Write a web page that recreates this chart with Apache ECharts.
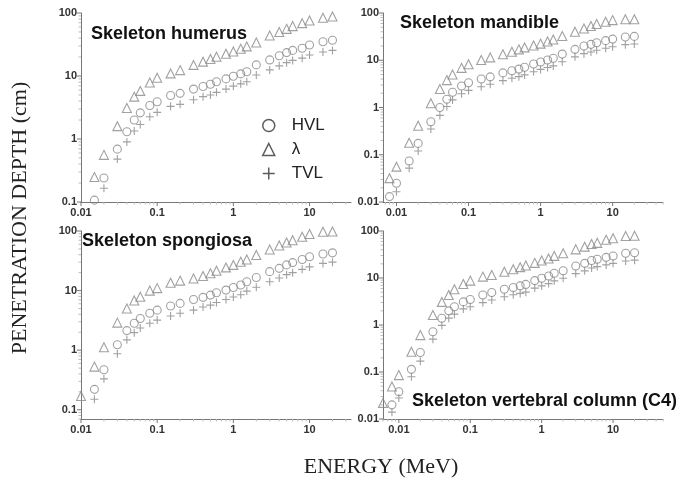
<!DOCTYPE html>
<html><head><meta charset="utf-8">
<script src="https://cdn.jsdelivr.net/npm/echarts/dist/echarts.min.js"></script>
<style>html,body{margin:0;padding:0;background:#fff}#c{width:699px;height:489px}</style>
</head><body><div id="c"></div>
<script>
// ---------- data ----------
const energyLeft  = [0.01, 0.015, 0.02, 0.03, 0.04, 0.05, 0.06, 0.08, 0.1, 0.15, 0.2, 0.3, 0.4, 0.5, 0.6, 0.8, 1, 1.25, 1.5, 2, 3, 4, 5, 6, 8, 10, 15, 20];
const energyRight = [0.006, 0.008, 0.01, 0.015, 0.02, 0.03, 0.04, 0.05, 0.06, 0.08, 0.1, 0.15, 0.2, 0.3, 0.4, 0.5, 0.6, 0.8, 1, 1.25, 1.5, 2, 3, 4, 5, 6, 8, 10, 15, 20];

const humerusHVL    = [null, 0.107, 0.24, 0.69, 1.3, 2.0, 2.6, 3.4, 3.9, 4.9, 5.3, 6.2, 6.8, 7.4, 8.1, 9.0, 9.9, 10.8, 11.7, 15.0, 18.0, 21.0, 23.5, 25.5, 27.6, 31, 35, 37];
const humerusLambda = [null, 0.25, 0.56, 1.6, 3.1, 4.7, 5.8, 7.9, 9.4, 11, 12.4, 15, 16.9, 18.6, 20.2, 22.5, 24.5, 27, 29.5, 34, 44, 50, 56, 62, 69, 76, 84, 88];
const humerusTVL    = [null, null, 0.165, 0.48, 0.9, 1.34, 1.7, 2.26, 2.65, 3.3, 3.55, 4.2, 4.7, 5.0, 5.5, 6.2, 6.9, 7.5, 8.1, 10.4, 12.5, 14.5, 16.3, 17.7, 19.2, 21.5, 24, 25.5];

const mandibleHVL    = [null, 0.013, 0.025, 0.074, 0.174, 0.50, 1.0, 1.5, 2.1, 2.85, 3.35, 4.0, 4.45, 5.4, 6.0, 6.5, 7.1, 8.3, 9.2, 10.1, 11, 13.5, 17, 20, 21.7, 23.5, 26, 28, 31, 32];
const mandibleLambda = [null, 0.032, 0.056, 0.18, 0.41, 1.23, 2.46, 3.8, 5.0, 6.9, 8.2, 10.1, 11.5, 13.4, 15.1, 17, 18.7, 20.5, 22.5, 25, 27.5, 32.6, 40, 47, 53, 58.5, 65.5, 70.7, 73.6, 74];
const mandibleTVL    = [null, null, 0.0165, 0.052, 0.12, 0.35, 0.68, 1.05, 1.45, 1.95, 2.3, 2.75, 3.1, 3.7, 4.15, 4.5, 4.9, 5.7, 6.4, 7.0, 7.6, 9.3, 11.8, 13.8, 15, 16.3, 18, 19.3, 21.4, 22];

const spongiosaHVL    = [null, 0.22, 0.47, 1.23, 2.13, 2.83, 3.4, 4.17, 4.7, 5.5, 6.1, 7.1, 7.7, 8.4, 9.2, 10.2, 11.3, 12.4, 14.1, 16.6, 20.8, 23.6, 27, 29.5, 33.3, 37, 41, 43];
const spongiosaLambda = [0.17, 0.53, 1.12, 2.9, 5.0, 6.8, 7.9, 10, 11, 13.5, 14.7, 16, 17.6, 19.5, 21.5, 24.5, 27, 30.5, 33.3, 39.5, 49, 57, 64, 70, 80, 89, 97, 98];
const spongiosaTVL    = [null, 0.15, 0.33, 0.87, 1.49, 1.97, 2.35, 2.83, 3.2, 3.75, 4.17, 4.7, 5.3, 5.7, 6.3, 7.1, 7.8, 8.5, 9.8, 11.4, 14.1, 16.3, 18.5, 20, 22.7, 25, 28.6, 30];

const vertebralHVL    = [null, 0.02, 0.038, 0.114, 0.26, 0.72, 1.39, 2.0, 2.45, 3.1, 3.5, 4.35, 4.9, 5.75, 6.3, 6.8, 7.3, 8.8, 9.9, 11, 12.6, 14.3, 18, 20.5, 23.5, 25, 27.5, 29.4, 33.5, 34.5];
const vertebralLambda = [0.022, 0.049, 0.086, 0.27, 0.61, 1.63, 3.1, 4.35, 5.75, 7.45, 8.8, 10.7, 11.6, 13.6, 15.3, 17, 18.5, 21, 23.5, 26, 29.5, 33.5, 40.7, 46.5, 53, 56, 65, 70, 78, 79];
const vertebralTVL    = [null, 0.014, 0.028, 0.079, 0.17, 0.5, 0.98, 1.4, 1.7, 2.2, 2.45, 3.0, 3.4, 4.0, 4.4, 4.7, 5.0, 6.1, 6.8, 7.6, 8.7, 9.9, 12.4, 14.2, 16.3, 17.5, 19, 20.5, 23, 24];

const panelTitles = ['Skeleton humerus', 'Skeleton mandible', 'Skeleton spongiosa', 'Skeleton vertebral column (C4)'];
const seriesNames = ['HVL', 'λ', 'TVL'];
const tickMultipliers = [1, 2, 3, 4, 5, 6, 7, 8, 9];

// ---------- build ----------
const panels = [
  {E: energyLeft,  s: [humerusHVL, humerusLambda, humerusTVL],       grid: {left: 81,  top: 13,  width: 270, height: 189}, x: [0.01, 35],   y: [0.1, 100]},
  {E: energyRight, s: [mandibleHVL, mandibleLambda, mandibleTVL],    grid: {left: 383, top: 13,  width: 280, height: 189}, x: [0.0065, 50], y: [0.01, 100]},
  {E: energyLeft,  s: [spongiosaHVL, spongiosaLambda, spongiosaTVL], grid: {left: 81,  top: 231, width: 270, height: 188}, x: [0.01, 35],   y: [0.07, 100]},
  {E: energyRight, s: [vertebralHVL, vertebralLambda, vertebralTVL], grid: {left: 383, top: 231, width: 280, height: 188}, x: [0.006, 50],  y: [0.01, 100]}
];

const plusPath = 'path://M5,0L5,10M0,5L10,5';
const symbols = ['circle', 'triangle', plusPath];
const sizes = [8, 9, 8];
const labelFont = {color: '#333', fontSize: 11, fontWeight: 'bold', fontFamily: '"Liberation Sans", Arial, sans-serif'};

function fmt(v) {
  const l = Math.log10(v);
  if (Math.abs(l - Math.round(l)) > 1e-6) return '';
  return String(+Math.pow(10, Math.round(l)).toPrecision(6));
}
function pairs(E, V) {
  const out = [];
  E.forEach((e, i) => { if (V[i] != null) out.push([e, V[i]]); });
  return out;
}
function tickData(xr, yr) {
  const d = [];
  const add = (r, cb) => {
    for (let k = Math.floor(Math.log10(r[0])); k <= Math.ceil(Math.log10(r[1])); k++) {
      tickMultipliers.forEach(m => {
        const v = +(m * Math.pow(10, k)).toPrecision(6);
        if (v >= r[0] * (1 - 1e-9) && v <= r[1] * (1 + 1e-9)) cb(v, m === 1 ? 1 : 0);
      });
    }
  };
  add(xr, (v, maj) => d.push([v, yr[0], 0, maj]));
  add(yr, (v, maj) => d.push([xr[0], v, 1, maj]));
  return d;
}
function renderTick(params, api) {
  const p = api.coord([api.value(0), api.value(1)]);
  const maj = api.value(3) === 1;
  const len = maj ? 4 : 2.5;
  const isX = api.value(2) === 0;
  return {
    type: 'line',
    shape: isX ? {x1: p[0], y1: p[1], x2: p[0], y2: p[1] + len} : {x1: p[0] - len, y1: p[1], x2: p[0], y2: p[1]},
    style: {stroke: maj ? '#777' : '#bbb', lineWidth: 1},
    silent: true
  };
}

const grid = [], xAxis = [], yAxis = [], series = [];
panels.forEach((p, gi) => {
  grid.push(p.grid);
  xAxis.push({type: 'log', logBase: 10, gridIndex: gi, min: p.x[0], max: p.x[1],
    axisLine: {lineStyle: {color: '#777', width: 1}}, axisTick: {show: false}, splitLine: {show: false},
    axisLabel: Object.assign({margin: 5, formatter: fmt}, labelFont)});
  yAxis.push({type: 'log', logBase: 10, gridIndex: gi, min: p.y[0], max: p.y[1],
    axisLine: {show: true, lineStyle: {color: '#777', width: 1}}, axisTick: {show: false}, splitLine: {show: false},
    axisLabel: Object.assign({margin: 4, formatter: fmt}, labelFont)});
  p.s.forEach((vals, si) => {
    series.push({
      type: 'scatter', name: seriesNames[si], xAxisIndex: gi, yAxisIndex: gi,
      data: pairs(p.E, vals), symbol: symbols[si], symbolSize: sizes[si],
      itemStyle: {color: 'rgba(0,0,0,0)', borderColor: '#8a8a8a', borderWidth: 1.1},
      silent: true, clip: false, animation: false
    });
  });
  series.push({type: 'custom', xAxisIndex: gi, yAxisIndex: gi, data: tickData(p.x, p.y),
    renderItem: renderTick, silent: true, clip: false, animation: false, z: 1});
});

const titleFont = 'bold 18px "Liberation Sans", Arial, sans-serif';
const axisTitleFont = '22px "Liberation Serif", "Times New Roman", serif';
const titlePos = [[91, 25], [400, 14], [82, 232], [412, 392]];

const option = {
  animation: false,
  backgroundColor: '#fff',
  grid, xAxis, yAxis, series,
  legend: {
    left: 257, top: 112, orient: 'vertical', itemWidth: 12, itemHeight: 12, itemGap: 7,
    selectedMode: false,
    textStyle: {fontSize: 17, color: '#222', fontFamily: '"Liberation Sans", Arial, sans-serif', padding: [0, 0, 0, 12]},
    itemStyle: {color: 'rgba(0,0,0,0)', borderColor: '#333', borderWidth: 1.5},
    data: [{name: 'HVL', icon: 'circle'}, {name: 'λ', icon: 'triangle'}, {name: 'TVL', icon: plusPath}]
  },
  graphic: [
    ...panelTitles.map((t, i) => ({type: 'text', left: titlePos[i][0], top: titlePos[i][1], z: 10,
      style: {text: t, font: titleFont, fill: '#111'}})),
    {type: 'text', x: 20, y: 218, rotation: Math.PI / 2,
      style: {text: 'PENETRATION DEPTH (cm)', font: axisTitleFont, fill: '#222', align: 'center', verticalAlign: 'middle', textAlign: 'center', textVerticalAlign: 'middle'}},
    {type: 'text', x: 381, y: 467,
      style: {text: 'ENERGY (MeV)', font: axisTitleFont, fill: '#222', align: 'center', verticalAlign: 'middle', textAlign: 'center', textVerticalAlign: 'middle'}}
  ]
};
const chart = echarts.init(document.getElementById('c'), null, {renderer: 'canvas'});
chart.setOption(option);
</script>
</body></html>
